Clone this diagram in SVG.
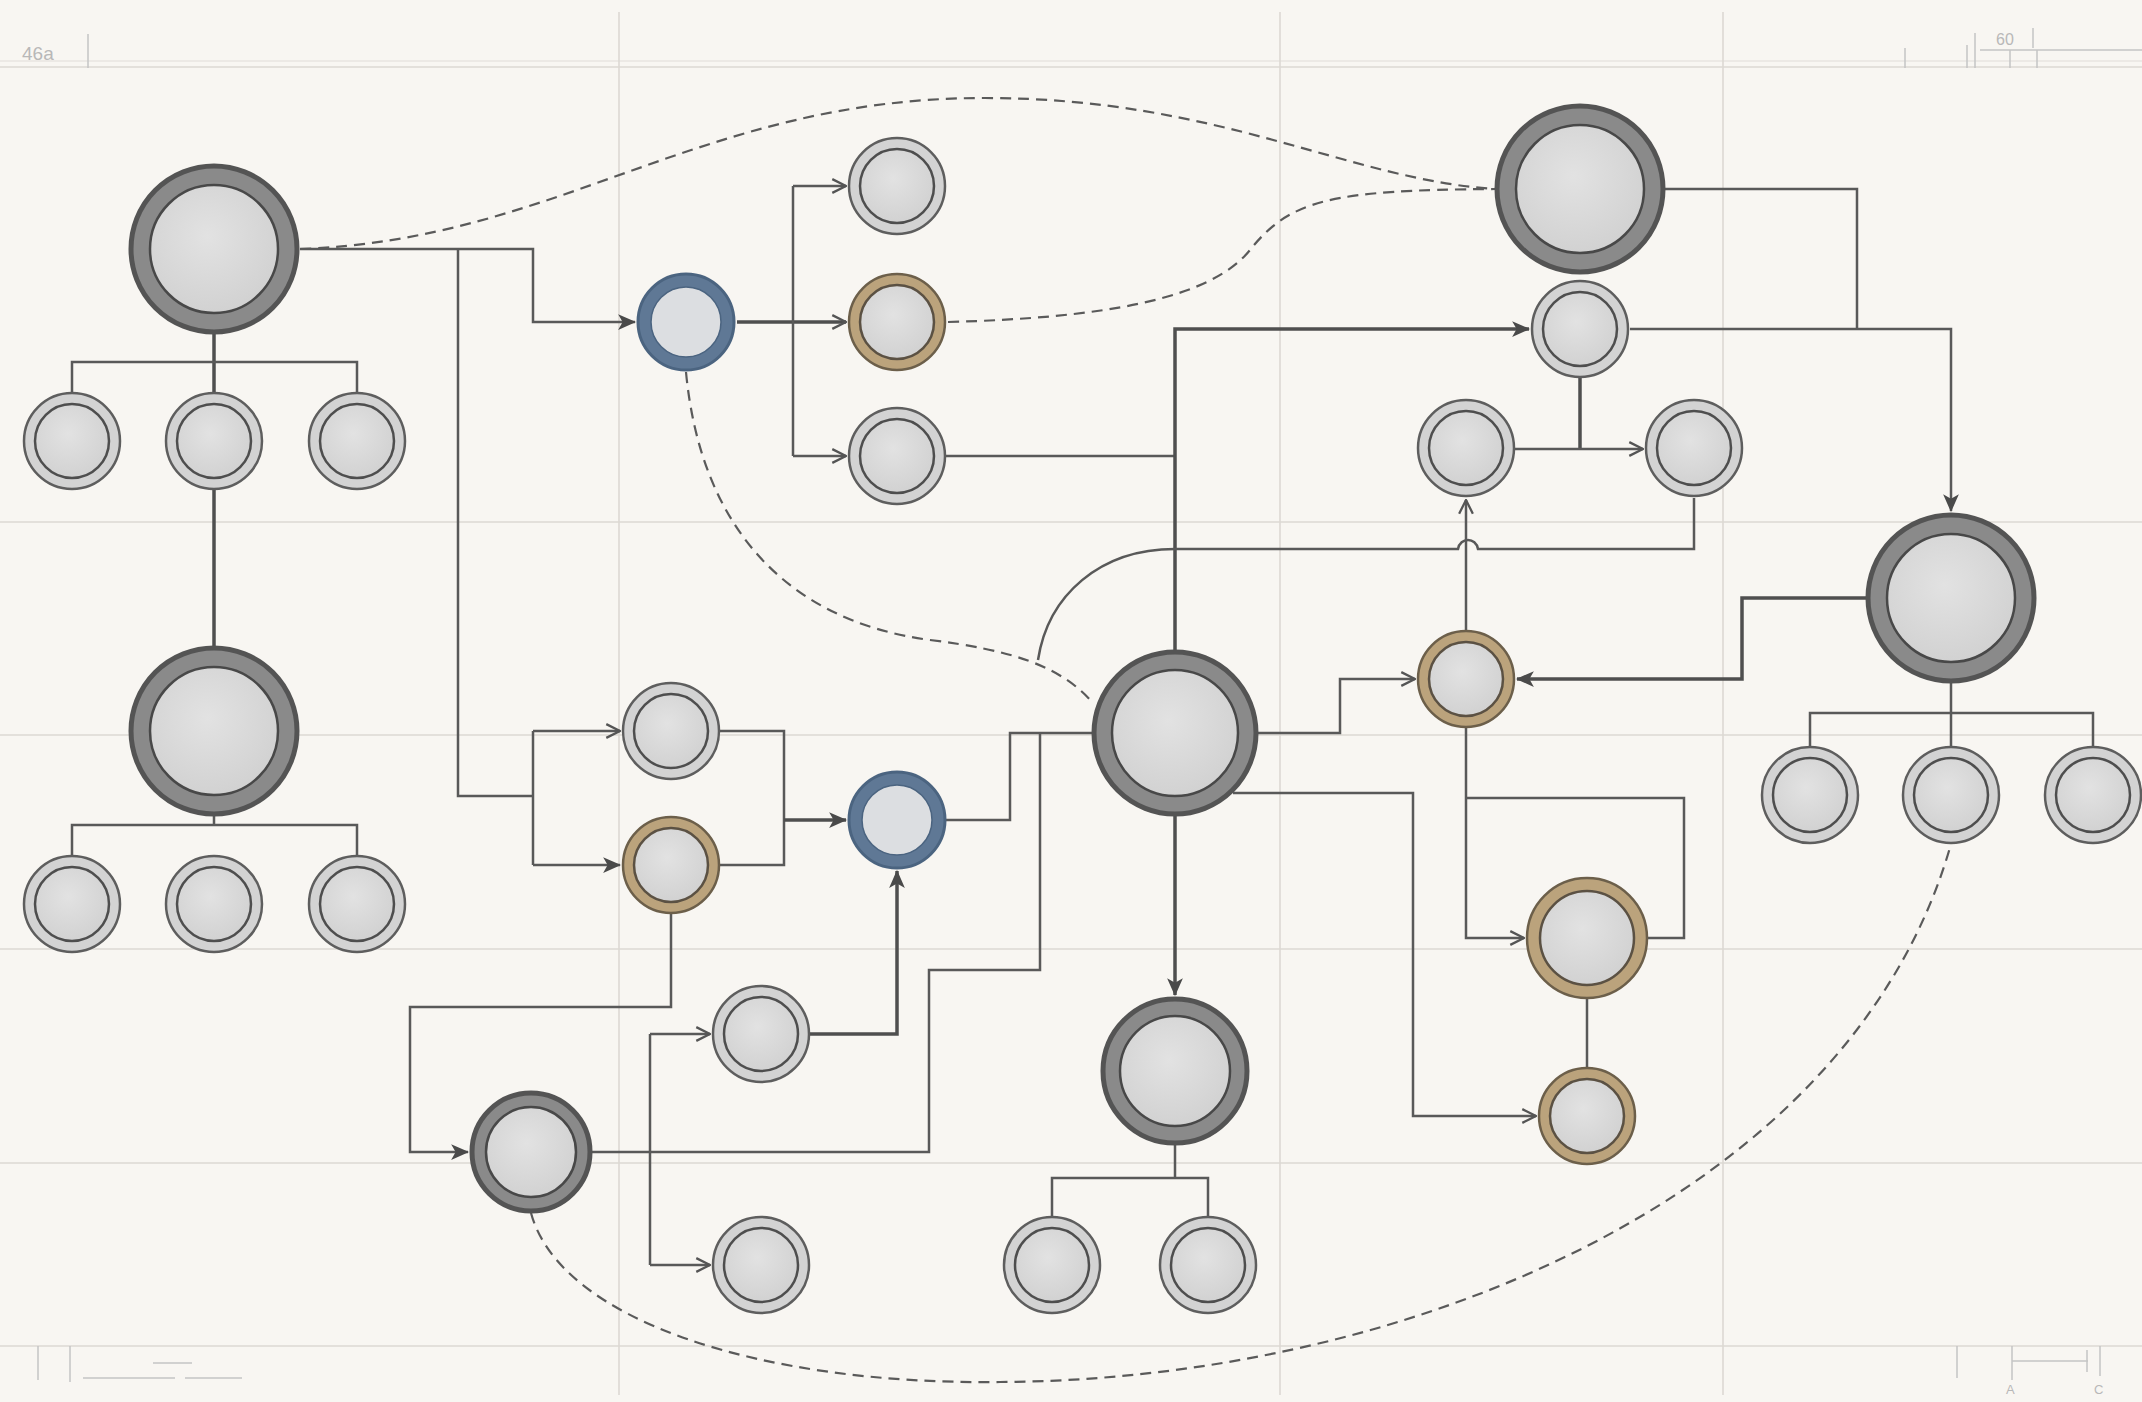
<svg xmlns="http://www.w3.org/2000/svg" width="2142" height="1402" viewBox="0 0 2142 1402">
<defs>
<radialGradient id="gin" cx="0.45" cy="0.4" r="0.7">
<stop offset="0" stop-color="#e2e2e2"/><stop offset="1" stop-color="#cfcfcf"/>
</radialGradient>
<marker id="afl" viewBox="0 0 16 16" refX="15" refY="8" markerWidth="18" markerHeight="18" markerUnits="userSpaceOnUse" orient="auto">
<path d="M0,1 L16,8 L0,15 L4,8 Z" fill="#4a4a4a"/>
</marker>
<marker id="ao" viewBox="0 0 14 14" refX="13" refY="7" markerWidth="16" markerHeight="16" markerUnits="userSpaceOnUse" orient="auto">
<path d="M1,1 L13,7 L1,13" fill="none" stroke="#555" stroke-width="2"/>
</marker>
</defs>
<style>
.grid{stroke:#dcd9d3;stroke-width:1.6;fill:none}
.mark{stroke:#c4c4c4;stroke-width:1.5;fill:none}
.mt{font-family:"Liberation Sans",Arial,sans-serif;fill:#b8b8b8}
.c{fill:none;stroke:#595959;stroke-width:2.5}
.ck{fill:none;stroke:#4f4f4f;stroke-width:3.5}
.cd{fill:none;stroke:#5a5a5a;stroke-width:2.2;stroke-dasharray:11 7}
.Lo{fill:#8a8a8a;stroke:#545454;stroke-width:5}
.Li{fill:url(#gin);stroke:#484848;stroke-width:2.5}
.So{fill:#d3d3d3;stroke:#5e5e5e;stroke-width:2.5}
.Si{fill:url(#gin);stroke:#4e4e4e;stroke-width:2.5}
.Bo{fill:#5f7895;stroke:#4b6480;stroke-width:3}
.Bi{fill:#dcdee1;stroke:#4b6480;stroke-width:1.5}
.To{fill:#bba37c;stroke:#6c5f4a;stroke-width:2.5}
.Ti{fill:url(#gin);stroke:#5b5143;stroke-width:2.5}
</style>
<rect width="2142" height="1402" fill="#f8f6f2"/>
<g id="grid">
<line class="grid" x1="0" y1="61" x2="2142" y2="61" stroke-opacity="0.6"/>
<line class="grid" x1="0" y1="67" x2="2142" y2="67" stroke="#cfccc6"/>
<line class="grid" x1="0" y1="522" x2="2142" y2="522"/>
<line class="grid" x1="0" y1="735" x2="2142" y2="735"/>
<line class="grid" x1="0" y1="949" x2="2142" y2="949"/>
<line class="grid" x1="0" y1="1163" x2="2142" y2="1163"/>
<line class="grid" x1="0" y1="1346" x2="2142" y2="1346" stroke="#cfccc6"/>
<line class="grid" x1="619" y1="12" x2="619" y2="1395"/>
<line class="grid" x1="1280" y1="12" x2="1280" y2="1395"/>
<line class="grid" x1="1723" y1="12" x2="1723" y2="1395"/>
</g>
<g id="marks">
<text class="mt" x="22" y="60" style="font-size:19px">46a</text>
<line class="mark" x1="88" y1="34" x2="88" y2="68"/>
<line class="mark" x1="1905" y1="48" x2="1905" y2="68"/>
<line class="mark" x1="1967" y1="45" x2="1967" y2="68"/>
<line class="mark" x1="1975" y1="33" x2="1975" y2="68"/>
<line class="mark" x1="1980" y1="50" x2="2142" y2="50"/>
<line class="mark" x1="2010" y1="50" x2="2010" y2="68"/>
<line class="mark" x1="2037" y1="50" x2="2037" y2="68"/>
<text class="mt" x="1996" y="45" style="font-size:16px">60</text>
<line class="mark" x1="2033" y1="28" x2="2033" y2="48"/>
<line class="mark" x1="38" y1="1346" x2="38" y2="1380"/>
<line class="mark" x1="70" y1="1346" x2="70" y2="1382"/>
<line class="mark" x1="153" y1="1363" x2="192" y2="1363"/>
<line class="mark" x1="83" y1="1378" x2="175" y2="1378"/>
<line class="mark" x1="185" y1="1378" x2="242" y2="1378"/>
<line class="mark" x1="1957" y1="1346" x2="1957" y2="1378"/>
<line class="mark" x1="2012" y1="1346" x2="2012" y2="1380"/>
<line class="mark" x1="2012" y1="1361" x2="2088" y2="1361"/>
<line class="mark" x1="2087" y1="1350" x2="2087" y2="1372"/>
<line class="mark" x1="2100" y1="1346" x2="2100" y2="1376"/>
<text class="mt" x="2006" y="1394" style="font-size:13px">A</text>
<text class="mt" x="2094" y="1394" style="font-size:13px">C</text>
</g>
<g id="connectors">
<path class="cd" d="M300,249 C560,240 700,98 985,98 C1220,98 1350,180 1495,189"/>
<path class="cd" d="M948,322 C1100,318 1210,300 1250,250 C1290,200 1330,190 1495,189"/>
<path class="cd" d="M686,372 C700,520 780,620 930,640 C1010,650 1060,665 1093,703"/>
<path class="cd" d="M531,1213 C560,1320 760,1385 1000,1382 C1400,1380 1850,1200 1951,844"/>
<path class="ck" d="M214,334 V392"/>
<path class="c" d="M72,392 V362 H357 V392"/>
<path class="ck" d="M214,490 V646"/>
<path class="c" d="M214,816 V825 M72,855 V825 H357 V855"/>
<path class="c" d="M300,249 H533 V322 H635" marker-end="url(#afl)"/>
<path class="c" d="M458,249 V796 H533"/>
<path class="c" d="M533,731 V865"/>
<path class="c" d="M533,731 H620" marker-end="url(#ao)"/>
<path class="c" d="M533,865 H620" marker-end="url(#afl)"/>
<path class="c" d="M720,731 H784 V865 H720"/>
<path class="ck" d="M784,820 H846" marker-end="url(#afl)"/>
<path class="ck" d="M737,322 H846" marker-end="url(#ao)"/>
<path class="c" d="M793,186 V456"/>
<path class="c" d="M793,186 H846" marker-end="url(#ao)"/>
<path class="c" d="M793,456 H846" marker-end="url(#ao)"/>
<path class="c" d="M946,456 H1175"/>
<path class="ck" d="M1175,651 V329 H1529" marker-end="url(#afl)"/>
<path class="ck" d="M1175,815 V995" marker-end="url(#afl)"/>
<path class="c" d="M1175,1145 V1178 M1052,1216 V1178 H1208 V1216"/>
<path class="c" d="M1257,733 H1340 V679 H1415" marker-end="url(#ao)"/>
<path class="c" d="M1233,793 H1413 V1116 H1536" marker-end="url(#ao)"/>
<path class="c" d="M1093,733 H1010 V820 H946"/>
<path class="c" d="M1040,733 V970 H929 V1152 H592"/>
<path class="c" d="M671,914 V1007 H410 V1152 H468" marker-end="url(#afl)"/>
<path class="ck" d="M810,1034 H897 V871" marker-end="url(#afl)"/>
<path class="c" d="M650,1034 V1265"/>
<path class="c" d="M650,1034 H710" marker-end="url(#ao)"/>
<path class="c" d="M650,1265 H710" marker-end="url(#ao)"/>
<path class="c" d="M1665,189 H1857 V329"/>
<path class="c" d="M1630,329 H1951 V511" marker-end="url(#afl)"/>
<path class="ck" d="M1580,378 V449"/>
<path class="c" d="M1515,449 H1643" marker-end="url(#ao)"/>
<path class="c" d="M1038,660 C1048,595 1100,549 1175,549 H1458 C1460,537 1476,537 1478,549 H1694 V498"/>
<path class="c" d="M1466,630 V500" marker-end="url(#ao)"/>
<path class="c" d="M1466,728 V938 H1524" marker-end="url(#ao)"/>
<path class="c" d="M1466,798 H1684 V938 H1648"/>
<path class="c" d="M1587,999 V1067"/>
<path class="ck" d="M1866,598 H1742 V679 H1517" marker-end="url(#afl)"/>
<path class="c" d="M1951,683 V746 M1810,746 V713 H2093 V746"/>
</g>
<g id="n1"><circle class="Lo" cx="214" cy="249" r="83"/><circle class="Li" cx="214" cy="249" r="64"/></g>
<g id="n1a"><circle class="So" cx="72" cy="441" r="48"/><circle class="Si" cx="72" cy="441" r="37"/></g>
<g id="n1b"><circle class="So" cx="214" cy="441" r="48"/><circle class="Si" cx="214" cy="441" r="37"/></g>
<g id="n1c"><circle class="So" cx="357" cy="441" r="48"/><circle class="Si" cx="357" cy="441" r="37"/></g>
<g id="n2"><circle class="Lo" cx="214" cy="731" r="83"/><circle class="Li" cx="214" cy="731" r="64"/></g>
<g id="n2a"><circle class="So" cx="72" cy="904" r="48"/><circle class="Si" cx="72" cy="904" r="37"/></g>
<g id="n2b"><circle class="So" cx="214" cy="904" r="48"/><circle class="Si" cx="214" cy="904" r="37"/></g>
<g id="n2c"><circle class="So" cx="357" cy="904" r="48"/><circle class="Si" cx="357" cy="904" r="37"/></g>
<g id="b1"><circle class="Bo" cx="686" cy="322" r="48"/><circle class="Bi" cx="686" cy="322" r="35"/></g>
<g id="s1"><circle class="So" cx="897" cy="186" r="48"/><circle class="Si" cx="897" cy="186" r="37"/></g>
<g id="t1"><circle class="To" cx="897" cy="322" r="48"/><circle class="Ti" cx="897" cy="322" r="37"/></g>
<g id="s2"><circle class="So" cx="897" cy="456" r="48"/><circle class="Si" cx="897" cy="456" r="37"/></g>
<g id="s3"><circle class="So" cx="671" cy="731" r="48"/><circle class="Si" cx="671" cy="731" r="37"/></g>
<g id="t2"><circle class="To" cx="671" cy="865" r="48"/><circle class="Ti" cx="671" cy="865" r="37"/></g>
<g id="b2"><circle class="Bo" cx="897" cy="820" r="48"/><circle class="Bi" cx="897" cy="820" r="35"/></g>
<g id="d1"><circle class="Lo" cx="531" cy="1152" r="59"/><circle class="Li" cx="531" cy="1152" r="45"/></g>
<g id="s4"><circle class="So" cx="761" cy="1034" r="48"/><circle class="Si" cx="761" cy="1034" r="37"/></g>
<g id="s5"><circle class="So" cx="761" cy="1265" r="48"/><circle class="Si" cx="761" cy="1265" r="37"/></g>
<g id="nc"><circle class="Lo" cx="1175" cy="733" r="81"/><circle class="Li" cx="1175" cy="733" r="63"/></g>
<g id="n4"><circle class="Lo" cx="1175" cy="1071" r="72"/><circle class="Li" cx="1175" cy="1071" r="55"/></g>
<g id="n4a"><circle class="So" cx="1052" cy="1265" r="48"/><circle class="Si" cx="1052" cy="1265" r="37"/></g>
<g id="n4b"><circle class="So" cx="1208" cy="1265" r="48"/><circle class="Si" cx="1208" cy="1265" r="37"/></g>
<g id="n3"><circle class="Lo" cx="1580" cy="189" r="83"/><circle class="Li" cx="1580" cy="189" r="64"/></g>
<g id="s6"><circle class="So" cx="1580" cy="329" r="48"/><circle class="Si" cx="1580" cy="329" r="37"/></g>
<g id="s7"><circle class="So" cx="1466" cy="448" r="48"/><circle class="Si" cx="1466" cy="448" r="37"/></g>
<g id="s8"><circle class="So" cx="1694" cy="448" r="48"/><circle class="Si" cx="1694" cy="448" r="37"/></g>
<g id="t3"><circle class="To" cx="1466" cy="679" r="48"/><circle class="Ti" cx="1466" cy="679" r="37"/></g>
<g id="t4"><circle class="To" cx="1587" cy="938" r="60"/><circle class="Ti" cx="1587" cy="938" r="47"/></g>
<g id="t5"><circle class="To" cx="1587" cy="1116" r="48"/><circle class="Ti" cx="1587" cy="1116" r="37"/></g>
<g id="n5"><circle class="Lo" cx="1951" cy="598" r="83"/><circle class="Li" cx="1951" cy="598" r="64"/></g>
<g id="n5a"><circle class="So" cx="1810" cy="795" r="48"/><circle class="Si" cx="1810" cy="795" r="37"/></g>
<g id="n5b"><circle class="So" cx="1951" cy="795" r="48"/><circle class="Si" cx="1951" cy="795" r="37"/></g>
<g id="n5c"><circle class="So" cx="2093" cy="795" r="48"/><circle class="Si" cx="2093" cy="795" r="37"/></g>
</svg>
